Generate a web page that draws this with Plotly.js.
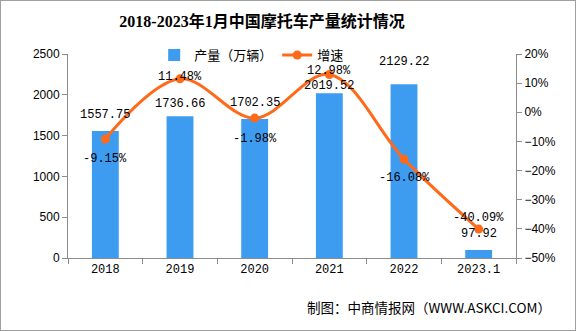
<!DOCTYPE html>
<html><head><meta charset="utf-8">
<script src="https://cdn.plot.ly/plotly-3.0.1.min.js"></script>
<style>html,body{margin:0;padding:0;background:#fff}#wrap{position:relative;width:576px;height:331px}#chart{width:576px;height:331px}#frame{position:absolute;left:0;top:0;width:576px;height:331px;box-sizing:border-box;border:1px solid #a0a0a0;pointer-events:none}</style>
</head><body><div id="wrap"><div id="chart"></div><div id="frame"></div></div>
<script>
const categories = ["2018","2019","2020","2021","2022","2023.1"];
const output = [1557.75,1736.66,1702.35,2019.52,2129.22,97.92];
const growth = [-9.15,11.48,-1.98,12.98,-16.08,-40.09];

// label offsets (style only, in pixels)
const barLabelShift = [16,12,16,7,22,16];
const growthLabelShift = [-20,2,-21,3,-19,11];

const numFont = {family:"Liberation Mono, DejaVu Sans Mono, monospace", size:12, color:"#000"};
const traces = [
 {type:"bar", x:categories, y:output, name:"产量（万辆）", marker:{color:"#3d9cf0"}, width:0.36},
 {type:"scatter", mode:"lines+markers", x:categories, y:growth, yaxis:"y2", name:"增速",
  line:{color:"#ff6a1a", width:3, shape:"spline", smoothing:1}, marker:{color:"#ff6a1a", size:9}, cliponaxis:false}
];
const annotations = [];
categories.forEach((c,i)=>{
  annotations.push({x:i, y:output[i], xref:"x", yref:"y", text:output[i].toFixed(2), showarrow:false,
    yanchor:"middle", yshift:barLabelShift[i], font:numFont});
});
categories.forEach((c,i)=>{
  annotations.push({x:i, y:growth[i], xref:"x", yref:"y2", text:growth[i].toFixed(2)+"%", showarrow:false,
    yanchor:"middle", yshift:growthLabelShift[i], font:numFont});
});
annotations.push({text:"制图：中商情报网（WWW.ASKCI.COM）", xref:"paper", yref:"paper", x:1.083, xanchor:"right", y:-0.24, yanchor:"middle",
    showarrow:false, font:{family:"Noto Sans CJK SC, sans-serif", size:13.5, color:"#000"}});

const axisCommon = {showgrid:false, zeroline:false, showline:true, linecolor:"#8c8c8c", linewidth:1,
  ticks:"outside", ticklen:5, tickcolor:"#8c8c8c", tickfont:{family:"Liberation Sans, Arial, sans-serif", size:12, color:"#000"}};
const layout = {
  width:576, height:331, margin:{l:68, r:60, t:54, b:73},
  paper_bgcolor:"#fff", plot_bgcolor:"#fff",
  title:{text:"<b>2018-2023年1月中国摩托车产量统计情况</b>", font:{family:"Liberation Serif, Noto Sans CJK SC, serif", size:16, color:"#000"},
    x:0.433, xanchor:"center", y:1-21/331, yanchor:"middle", xref:"paper", yref:"container"},
  xaxis:Object.assign({}, axisCommon, {type:"category", categoryorder:"array", categoryarray:categories, range:[-0.5, categories.length-0.5], tickson:"boundaries", tickfont:numFont}),
  yaxis:Object.assign({}, axisCommon, {range:[0,2500], dtick:500}),
  yaxis2:Object.assign({}, axisCommon, {overlaying:"y", side:"right", range:[-50,20], dtick:10, ticksuffix:"%"}),
  showlegend:true,
  legend:{orientation:"h", x:0.41, xanchor:"center", y:0.995, yanchor:"middle", bgcolor:"rgba(0,0,0,0)", itemwidth:30,
    font:{family:"Noto Sans CJK SC, sans-serif", size:13, color:"#000"}},
  annotations:annotations,
  bargap:0.64
};
Plotly.newPlot("chart", traces, layout, {displayModeBar:false, staticPlot:true});
</script></body></html>
